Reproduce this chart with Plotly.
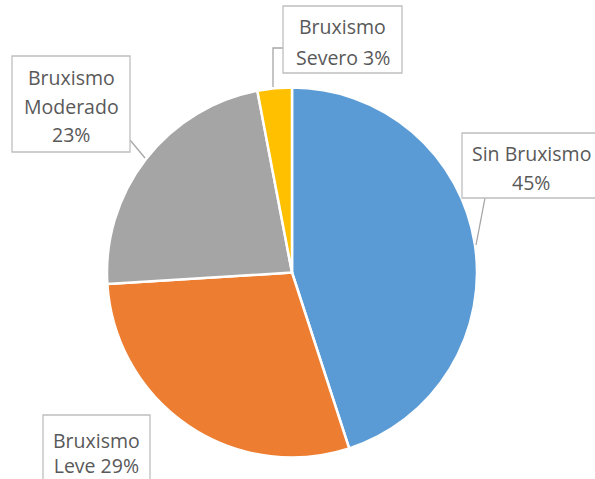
import plotly.graph_objects as go

categories = ["Sin Bruxismo", "Bruxismo Leve", "Bruxismo Moderado", "Bruxismo Severo"]
values = [45, 29, 23, 3]
colors = ["#5B9BD5", "#ED7D31", "#A5A5A5", "#FFC000"]

W, H = 595, 479


def px(x):
    return x / W


def py(y):
    return 1 - y / H


fig = go.Figure(go.Pie(
    labels=categories,
    values=values,
    sort=False,
    direction="clockwise",
    rotation=0,
    marker=dict(colors=colors, line=dict(color="white", width=2.5)),
    textinfo="none",
    hoverinfo="label+percent",
    domain=dict(x=[px(107), px(477)], y=[py(457.5), py(87.5)]),
    showlegend=False,
))

box_color = "#BFBFBF"
lead_color = "#A6A6A6"
text_color = "#595959"
font = dict(family="Open Sans, Noto Sans, sans-serif", size=19.5, color=text_color)

shapes = []
annotations = []


def box(x0, y0, x1, y1):
    shapes.append(dict(type="rect", xref="paper", yref="paper",
                       x0=px(x0), x1=px(x1), y0=py(y0), y1=py(y1),
                       line=dict(color=box_color, width=1.3), fillcolor="white", layer="above"))


def seg(points):
    path = "M " + " L ".join(f"{px(x)},{py(y)}" for x, y in points)
    shapes.append(dict(type="path", xref="paper", yref="paper", path=path,
                       line=dict(color=lead_color, width=1.3), layer="above"))


def text(x, y, t):
    annotations.append(dict(xref="paper", yref="paper", x=px(x), y=py(y),
                            text=t, showarrow=False, font=font,
                            xanchor="center", yanchor="middle"))


pct = [f"{v}%" for v in values]

# Severo
seg([(283, 48), (273, 48), (273, 87)])
box(283, 6, 402, 73)
text(342.5, 27, "Bruxismo")
text(342.5, 57, "Severo " + pct[3])

# Moderado
seg([(130, 140), (145, 158)])
box(12, 56, 130, 152)
text(71, 77, "Bruxismo")
text(71, 106.5, "Moderado")
text(71, 135, pct[2])

# Sin Bruxismo
seg([(485, 198), (476, 245)])
box(462, 133, 601, 198)
text(531, 153, "Sin Bruxismo")
text(531, 182, pct[0])

# Leve
box(43, 415, 150, 485)
text(96.5, 453, "Bruxismo<br>Leve " + pct[1])

fig.update_layout(
    width=W, height=H,
    margin=dict(l=0, r=0, t=0, b=0),
    paper_bgcolor="white", plot_bgcolor="white",
    shapes=shapes, annotations=annotations,
)

fig.write_html(
    "out.html",
    config={"displayModeBar": False},
    post_script="document.body.style.margin='0';document.body.style.overflow='hidden';",
)
